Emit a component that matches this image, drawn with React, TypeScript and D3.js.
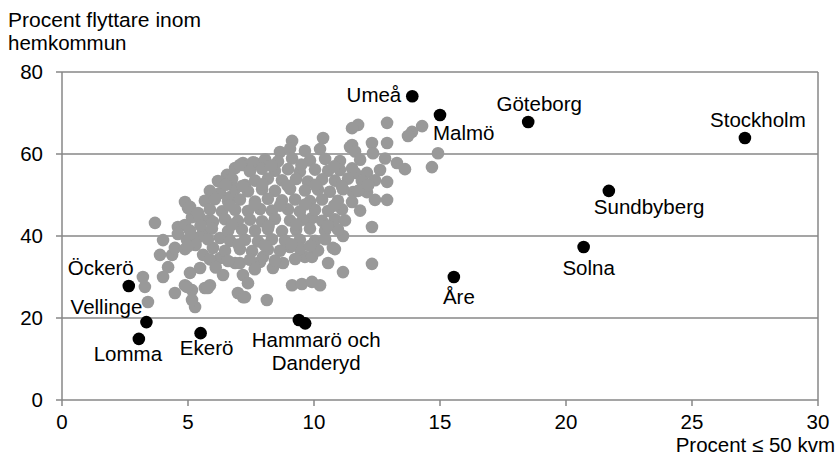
import React from "react";
import * as d3 from "d3";

const xTicks = [0, 5, 10, 15, 20, 25, 30];
const yTicks = [0, 20, 40, 60, 80];

const namedCities = ["Umeå", "Malmö", "Göteborg", "Stockholm", "Sundbyberg", "Solna", "Åre", "Öckerö", "Vellinge", "Lomma", "Ekerö", "Hammarö", "Danderyd"];
const namedX = [13.9, 15.0, 18.5, 27.1, 21.7, 20.7, 15.55, 2.65, 3.35, 3.05, 5.5, 9.4, 9.65];
const namedY = [74.1, 69.5, 67.8, 63.9, 51.0, 37.3, 30.0, 27.8, 19.0, 14.9, 16.3, 19.5, 18.7];
const namedLabels = [["Umeå"], ["Malmö"], ["Göteborg"], ["Stockholm"], ["Sundbyberg"], ["Solna"], ["Åre"], ["Öckerö"], ["Vellinge"], ["Lomma"], ["Ekerö"], [], ["Hammarö och", "Danderyd"]];

const otherMunicipalities: [number, number][] = [
  [3.69, 43.2], [4.60, 42.2], [4.88, 42.7], [4.01, 39.0], [3.89, 35.4], [4.37, 35.4], [4.48, 37.1], [4.21, 32.4],
  [4.01, 30.0], [3.21, 30.0], [3.29, 27.6], [3.41, 23.9], [4.48, 26.1], [4.88, 28.0], [5.16, 26.8], [5.28, 22.7],
  [5.16, 24.4], [5.67, 27.3], [5.87, 28.0], [4.96, 39.0], [5.36, 39.5], [5.16, 44.6], [5.48, 44.4], [5.00, 46.8],
  [5.87, 43.9], [5.60, 41.0], [5.60, 35.4], [5.99, 37.1], [6.27, 39.5], [6.27, 34.6], [5.48, 32.2], [5.08, 31.0],
  [6.55, 54.9], [6.87, 56.6], [7.18, 57.3], [4.88, 48.3], [5.08, 47.1], [5.40, 45.6], [6.27, 50.5], [6.67, 49.5],
  [7.26, 52.4], [5.99, 43.4], [6.98, 26.1], [7.18, 25.1], [7.18, 30.5], [6.87, 33.4], [6.39, 30.5], [4.96, 27.6],
  [5.79, 27.3],
  [12.30, 42.2], [11.15, 40.0], [10.83, 36.8], [10.56, 33.4], [11.15, 31.2], [12.30, 33.2], [9.13, 28.0], [9.52, 28.3],
  [9.92, 28.8], [10.24, 28.0], [8.13, 24.4], [7.26, 25.1], [7.86, 33.7], [8.37, 32.2], [8.77, 33.4], [9.64, 34.9],
  [9.92, 34.9], [9.05, 37.3], [7.38, 28.5], [7.06, 33.4], [7.98, 34.9], [9.92, 44.4], [10.75, 37.1],
  [12.90, 67.6], [11.75, 67.1], [11.51, 66.3], [12.90, 62.7], [10.36, 63.9], [9.13, 63.2], [8.65, 60.5], [13.29, 57.8],
  [12.90, 53.2], [12.90, 48.8], [12.62, 56.1], [12.10, 55.4], [11.63, 55.4], [11.55, 50.7], [12.10, 50.7], [11.43, 61.7],
  [12.30, 62.7], [12.34, 60.2], [11.03, 56.1], [7.66, 57.8], [7.18, 57.8], [14.29, 66.8], [13.89, 65.4], [13.73, 64.4],
  [14.92, 60.2], [14.68, 56.8], [13.61, 56.3], [11.51, 62.2], [7.58, 58.0], [7.06, 57.3],
  [9.05, 61.3], [9.64, 60.8], [10.24, 61.2], [11.63, 60.6],
  [8.06, 58.7], [8.57, 58.2], [9.13, 58.9], [9.84, 58.4], [10.44, 58.8], [11.03, 58.3], [11.83, 58.6], [12.82, 58.9],
  [7.46, 55.8], [7.94, 56.4], [8.45, 55.9], [8.97, 56.3], [9.44, 55.7], [10.04, 56.2], [10.56, 55.9], [11.51, 56.5],
  [6.19, 53.4], [6.75, 53.9], [7.66, 53.5], [8.17, 54.0], [8.73, 53.6], [9.29, 53.9], [9.76, 53.3], [10.32, 53.8],
  [10.83, 53.5], [11.35, 54.0], [11.90, 53.4], [12.42, 53.6],
  [5.87, 51.0], [6.87, 51.5], [7.38, 50.9], [7.94, 51.4], [8.45, 51.0], [9.05, 51.5], [9.64, 51.1], [10.16, 51.3],
  [10.63, 50.8], [11.15, 51.4], [11.75, 51.0],
  [5.67, 48.6], [6.07, 49.0], [6.59, 48.5], [7.06, 48.9], [7.66, 48.4], [8.17, 49.1], [8.73, 48.7], [9.25, 48.9],
  [9.84, 48.5], [10.32, 48.9], [10.95, 48.6], [11.51, 48.3], [12.42, 48.8],
  [5.87, 46.5], [6.35, 46.0], [6.87, 46.4], [7.38, 46.1], [7.86, 46.6], [8.33, 46.2], [8.97, 46.5], [9.44, 46.0],
  [10.04, 46.4], [10.56, 46.1], [11.11, 46.5], [11.83, 46.2],
  [6.47, 44.1], [6.98, 43.7], [7.46, 44.0], [7.94, 43.6], [8.45, 44.2], [9.05, 43.8], [9.56, 44.0], [10.32, 43.7],
  [10.83, 44.1], [11.23, 43.8],
  [5.08, 41.3], [5.95, 41.8], [6.59, 41.2], [7.14, 41.6], [7.66, 41.3], [8.17, 41.7], [8.73, 41.2], [9.29, 41.5],
  [9.84, 41.8], [10.44, 41.3], [10.95, 41.6],
  [5.79, 39.2], [6.67, 38.8], [7.26, 39.1], [7.78, 38.7], [8.33, 39.2], [8.85, 38.9], [9.44, 39.1], [10.04, 38.8],
  [10.44, 39.2],
  [4.88, 36.8], [6.47, 36.4], [7.06, 36.8], [7.54, 36.3], [8.17, 36.7], [8.65, 36.4], [9.44, 36.9], [10.16, 36.5],
  [5.87, 34.3], [6.59, 33.9], [7.46, 34.2], [8.45, 34.0], [9.25, 34.4],
  [8.3, 57.2], [9.5, 57.4], [10.8, 57.0],
  [6.5, 52.5], [7.15, 52.2], [7.95, 52.6], [8.95, 52.3], [10.05, 52.5], [11.1, 52.2], [12.15, 52.4],
  [6.65, 47.5], [7.65, 47.7], [8.65, 47.4], [9.65, 47.7], [10.8, 47.4],
  [5.5, 42.6], [6.75, 42.8], [8.2, 42.5], [9.3, 42.8], [10.55, 42.5],
  [5.3, 37.8], [7.0, 37.9], [8.05, 37.7], [9.1, 38.0], [9.85, 37.6],
  [6.1, 32.3], [7.65, 31.9], [4.6, 40.5], [5.0, 37.5],
];

// label layout (pixel offsets relative to the point), kept separate from data
const labelLayout: { anchor: string; dx: number; dy: number }[] = [
  { anchor: "end", dx: -11, dy: 6 },
  { anchor: "start", dx: -7, dy: 25 },
  { anchor: "middle", dx: 11, dy: -11 },
  { anchor: "middle", dx: 13, dy: -11 },
  { anchor: "start", dx: -15, dy: 23 },
  { anchor: "middle", dx: 5, dy: 28 },
  { anchor: "middle", dx: 5, dy: 27 },
  { anchor: "end", dx: 5, dy: -11 },
  { anchor: "end", dx: -4, dy: -8 },
  { anchor: "middle", dx: -11, dy: 22 },
  { anchor: "middle", dx: 6, dy: 22 },
  { anchor: "middle", dx: 0, dy: 0 },
  { anchor: "middle", dx: 11, dy: 24 },
];

const W = 840;
const H = 458;
const left = 62;
const right = 818;
const top = 72;
const bottom = 400;
const FONT = "'Liberation Sans', Arial, Helvetica, sans-serif";
const FS = 20.5;
const AXIS = "#878787";

export default function App() {
  const x = d3.scaleLinear().domain([0, 30]).range([left, right]);
  const y = d3.scaleLinear().domain([0, 80]).range([bottom, top]);
  const r = 6.3;

  return (
    <svg width={W} height={H} style={{ position: "absolute", left: 0, top: 0, background: "#fff" }} fontFamily={FONT} fontSize={FS}>
      <rect width={W} height={H} fill="#fff" />
      {yTicks.filter((t) => t > 0).map((t) => (
        <line key={"g" + t} x1={left} x2={right} y1={y(t)} y2={y(t)} stroke={AXIS} strokeWidth={1.5} />
      ))}
      <line x1={right} x2={right} y1={top} y2={bottom} stroke={AXIS} strokeWidth={1.5} />
      <line x1={left} x2={left} y1={top} y2={bottom} stroke={AXIS} strokeWidth={1.5} />
      <line x1={left} x2={right} y1={bottom} y2={bottom} stroke={AXIS} strokeWidth={1.5} />
      {yTicks.map((t) => (
        <g key={"y" + t}>
          <line x1={left - 6} x2={left} y1={y(t)} y2={y(t)} stroke={AXIS} strokeWidth={1.5} />
          <text x={43} y={y(t) + 7} textAnchor="end" fill="#000">{t}</text>
        </g>
      ))}
      {xTicks.map((t) => (
        <g key={"x" + t}>
          <line x1={x(t)} x2={x(t)} y1={bottom} y2={bottom + 6} stroke={AXIS} strokeWidth={1.5} />
          <text x={x(t)} y={429} textAnchor="middle" fill="#000">{t}</text>
        </g>
      ))}
      <text x={8} y={27} fill="#000" textLength={193} lengthAdjust="spacingAndGlyphs">Procent flyttare inom</text>
      <text x={8} y={50} fill="#000">hemkommun</text>
      <text x={835} y={452} textAnchor="end" fill="#000">Procent ≤ 50 kvm</text>

      {otherMunicipalities.map((d, i) => (
        <circle key={"o" + i} cx={x(d[0])} cy={y(d[1])} r={r} fill="#999999" />
      ))}
      {namedCities.map((c, i) => (
        <circle key={"n" + c} cx={x(namedX[i])} cy={y(namedY[i])} r={r} fill="#000" />
      ))}
      {namedCities.map((c, i) => {
        const L = labelLayout[i];
        return namedLabels[i].map((line, j) => (
          <text
            key={"l" + c + j}
            x={x(namedX[i]) + L.dx}
            y={y(namedY[i]) + L.dy + j * 23}
            textAnchor={L.anchor as any}
            fill="#000"
          >
            {line}
          </text>
        ));
      })}
    </svg>
  );
}
